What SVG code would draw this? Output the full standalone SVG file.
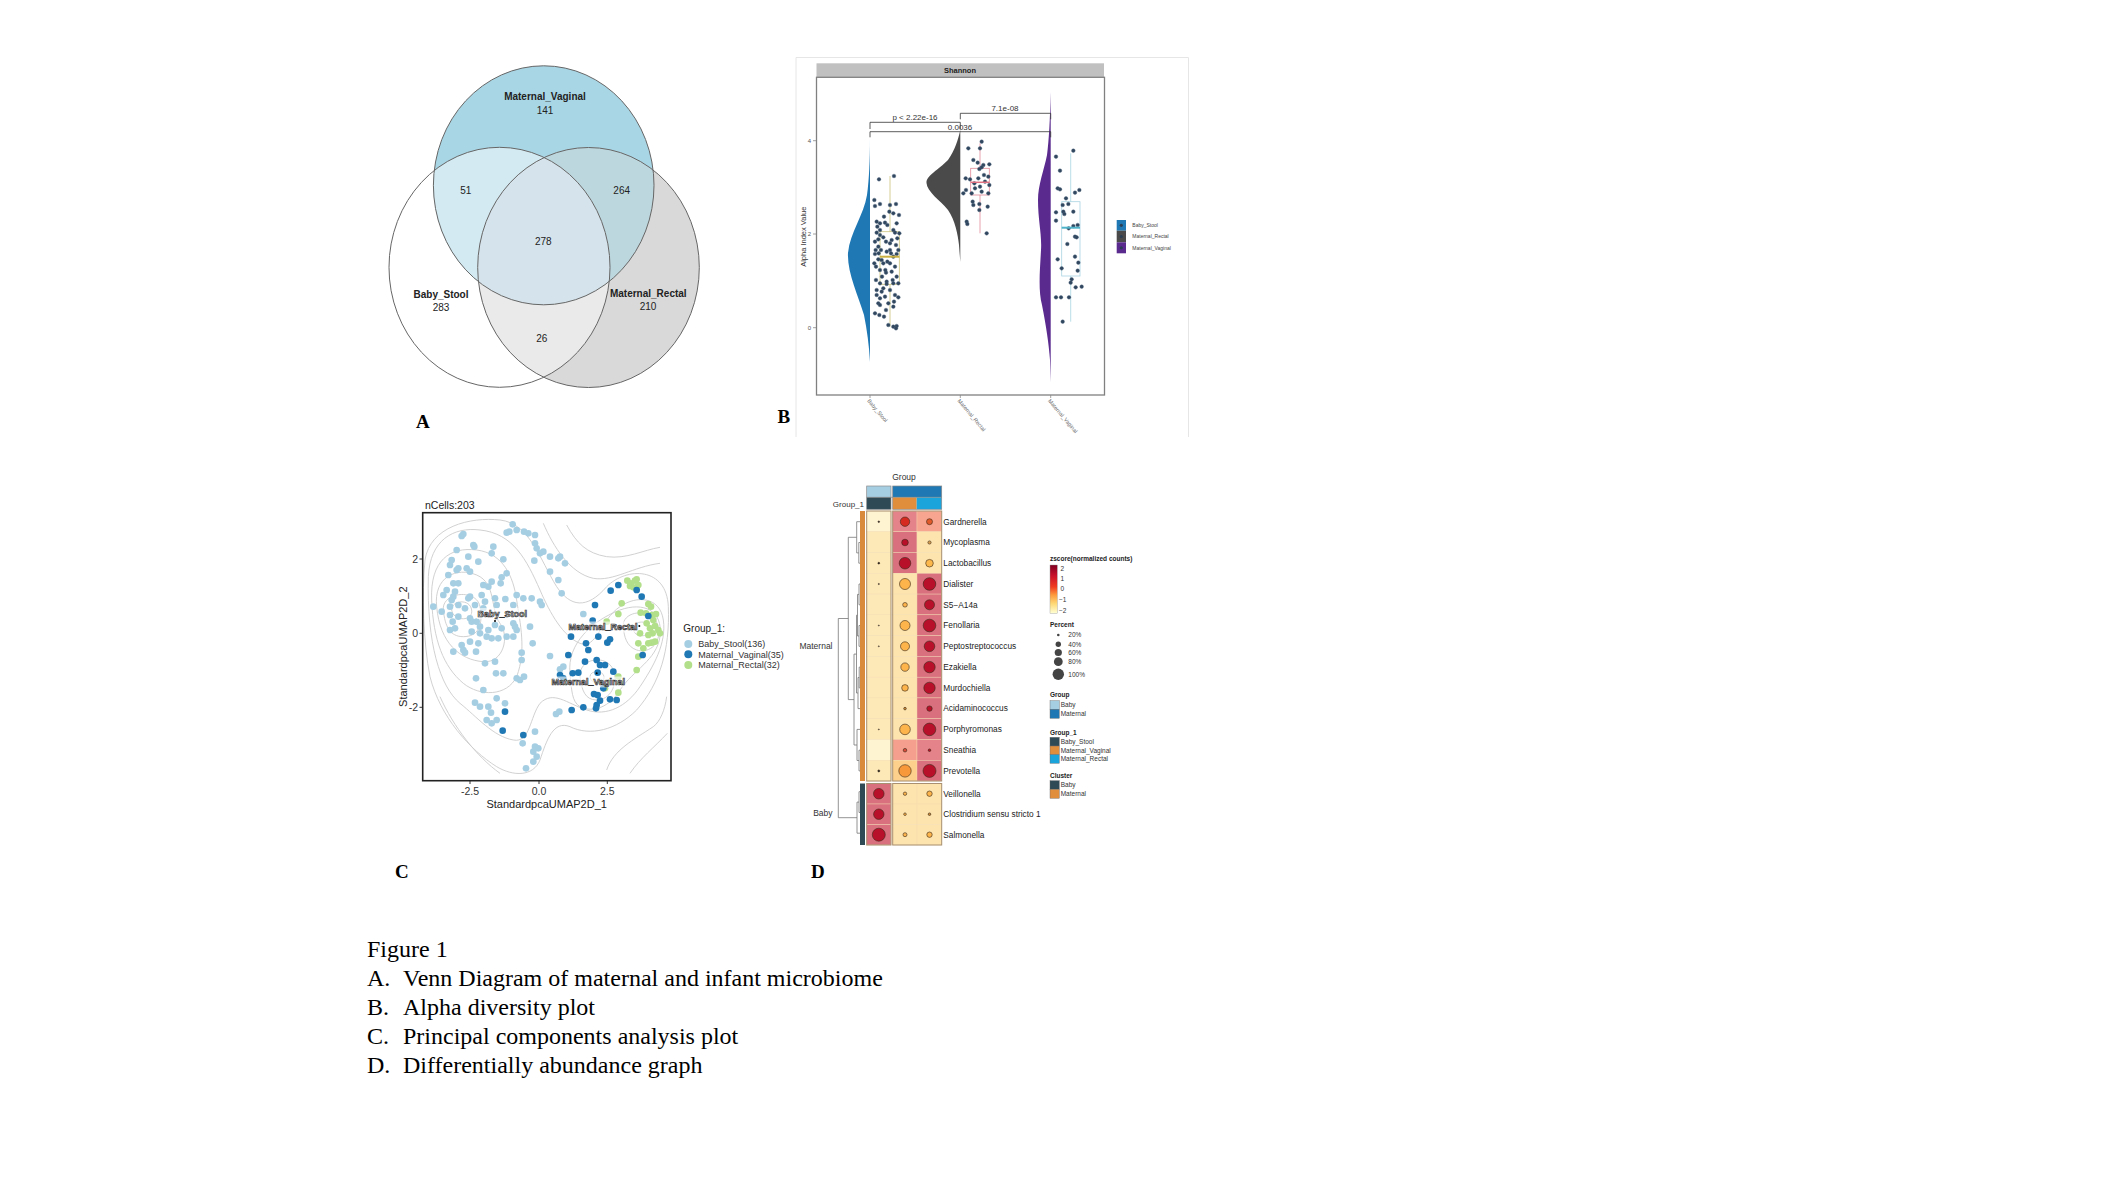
<svg xmlns="http://www.w3.org/2000/svg" width="2111" height="1188" viewBox="0 0 2111 1188">
<style>
.sans{font-family:"Liberation Sans",Arial,sans-serif}
.serif{font-family:"Liberation Serif","Times New Roman",serif}
.vl{font-family:"Liberation Sans",Arial,sans-serif;font-size:10px;fill:#222;text-anchor:middle}
.vb{font-weight:bold}
.pl{font-family:"Liberation Serif","Times New Roman",serif;font-size:19px;font-weight:bold;fill:#000}
.cap{font-family:"Liberation Serif","Times New Roman",serif;font-size:24px;fill:#000}
.bp circle{r:5.5px}
.bp{fill:#30475f;stroke:#4a6078;stroke-width:1.2}
.cb{fill:#a6cee3}.cv{fill:#1f78b4}.cr{fill:#b2df8a}
.ct{fill:none;stroke:#cccccc;stroke-width:2.7}
.dl{font-family:"Liberation Sans",Arial,sans-serif;font-size:8.3px;fill:#222}
.lg{font-family:"Liberation Sans",Arial,sans-serif;font-size:6.5px;fill:#333}
.lgt{font-family:"Liberation Sans",Arial,sans-serif;font-size:6.5px;fill:#222;font-weight:bold}
.dg{fill:none;stroke:#777;stroke-width:0.8}
.dot{stroke:#3a2a1a;stroke-width:0.6}
</style>
<defs>
<clipPath id="cT"><ellipse cx="543.7" cy="185.3" rx="110.3" ry="119.5"/></clipPath>
<clipPath id="cR"><ellipse cx="588.5" cy="267.5" rx="110.8" ry="120"/></clipPath>
<linearGradient id="zg" x1="0" y1="0" x2="0" y2="1">
<stop offset="0" stop-color="#7f0022"/><stop offset="0.22" stop-color="#c8102a"/><stop offset="0.45" stop-color="#f03b20"/><stop offset="0.62" stop-color="#fd9a3c"/><stop offset="0.8" stop-color="#fed976"/><stop offset="1" stop-color="#ffffd4"/>
</linearGradient>
</defs>
<rect width="2111" height="1188" fill="#ffffff"/>

<!-- Panel A: Venn -->
<g id="panelA">
<ellipse cx="543.7" cy="185.3" rx="110.3" ry="119.5" fill="#a9d6e5"/>
<ellipse cx="588.5" cy="267.5" rx="110.8" ry="120" fill="#d9d9d9"/>
<ellipse cx="499.5" cy="267.3" rx="110.5" ry="120" fill="#d3eaf2" clip-path="url(#cT)"/>
<ellipse cx="588.5" cy="267.5" rx="110.8" ry="120" fill="#bdd7df" clip-path="url(#cT)"/>
<ellipse cx="499.5" cy="267.3" rx="110.5" ry="120" fill="#eaeaea" clip-path="url(#cR)"/>
<g clip-path="url(#cT)"><ellipse cx="499.5" cy="267.3" rx="110.5" ry="120" fill="#d5e4ec" clip-path="url(#cR)"/></g>
<g fill="none" stroke="#666" stroke-width="1">
<ellipse cx="543.7" cy="185.3" rx="110.3" ry="119.5"/>
<ellipse cx="499.5" cy="267.3" rx="110.5" ry="120"/>
<ellipse cx="588.5" cy="267.5" rx="110.8" ry="120"/>
</g>
<text class="vl vb" x="545" y="100">Maternal_Vaginal</text>
<text class="vl" x="545" y="114">141</text>
<text class="vl" x="465.7" y="194">51</text>
<text class="vl" x="621.7" y="194">264</text>
<text class="vl" x="543.3" y="244.5">278</text>
<text class="vl vb" x="441" y="297.5">Baby_Stool</text>
<text class="vl" x="441" y="311">283</text>
<text class="vl vb" x="648.3" y="297">Maternal_Rectal</text>
<text class="vl" x="648" y="310">210</text>
<text class="vl" x="541.7" y="341.5">26</text>
<text class="pl" x="416" y="427.5">A</text>
</g>

<!-- Panel B: Alpha diversity -->
<g id="panelB">
<polyline points="796,437 796,57.5 1188.5,57.5 1188.5,437" fill="none" stroke="#e6e6e6" stroke-width="1"/>
<rect x="816.5" y="63.3" width="287.5" height="14" fill="#c0c0c0"/>
<text class="sans" x="960" y="73" font-size="7.5" font-weight="bold" text-anchor="middle" fill="#222">Shannon</text>
<rect x="816.5" y="77.3" width="288" height="317.7" fill="#fff" stroke="#808080" stroke-width="1.3"/>
<g class="sans" font-size="6" fill="#555" text-anchor="end">
<text x="811" y="142.8">4</text><text x="811" y="236.1">2</text><text x="811" y="329.8">0</text>
</g>
<g stroke="#888" stroke-width="0.8"><line x1="813" y1="140.7" x2="816" y2="140.7"/><line x1="813" y1="234" x2="816" y2="234"/><line x1="813" y1="327.7" x2="816" y2="327.7"/>
<line x1="870" y1="395" x2="870" y2="398"/><line x1="960.3" y1="395" x2="960.3" y2="398"/><line x1="1050.7" y1="395" x2="1050.7" y2="398"/></g>
<text class="sans" transform="translate(805.5,236.7) rotate(-90)" font-size="7.5" fill="#333" text-anchor="middle">Alpha Index Value</text>
<!-- violins -->
<path d="M870,138 C870,160 869,180 867,195 C864,215 850,232 848,253 C847,272 858,295 864,315 C867,330 869,345 870,362 Z" fill="#1f78b4"/>
<path d="M960.3,130 C958,140 955,150 948,160 C938,170 926,176 926.5,183 C927,192 940,200 948,210 C955,220 958,235 959,245 L960.3,262 Z" fill="#4a4a4a"/>
<path d="M1050.7,92 C1050,120 1049,140 1047,155 C1044,170 1038,185 1038,200 C1038,220 1042,235 1041,250 C1040,270 1038,290 1042,305 C1046,325 1049,345 1050,360 L1050.7,382 Z" fill="#5b2a8f"/>
<!-- boxplots -->
<g fill="none" stroke-width="0.8">
<g stroke="#c9c27a"><line x1="890" y1="176" x2="890" y2="231.7"/><line x1="890" y1="284.3" x2="890" y2="326.7"/><rect x="880" y="231.7" width="19.3" height="52.6"/></g>
<g stroke="#e08a98"><line x1="980" y1="143.3" x2="980" y2="168.3"/><line x1="980" y1="195" x2="980" y2="233.3"/><rect x="970.7" y="168.3" width="18.6" height="26.7"/></g>
<g stroke="#a8d4e2"><line x1="1070.7" y1="153.3" x2="1070.7" y2="201.7"/><line x1="1070.7" y1="276" x2="1070.7" y2="321.7"/><rect x="1061.7" y="201.7" width="18.3" height="74.3"/></g>
</g>
<!-- points -->
<g transform="translate(780,50) scale(0.333333)">
<g class="bp">
<circle cx="297" cy="388" r="5.5"/><circle cx="342" cy="378" r="5.5"/><circle cx="283" cy="450" r="5.5"/><circle cx="285" cy="468" r="5.5"/><circle cx="300" cy="462" r="5.5"/><circle cx="330" cy="465" r="5.5"/><circle cx="348" cy="462" r="5.5"/><circle cx="328" cy="485" r="5.5"/><circle cx="340" cy="490" r="5.5"/><circle cx="357" cy="495" r="5.5"/><circle cx="290" cy="515" r="5.5"/><circle cx="300" cy="520" r="5.5"/><circle cx="292" cy="530" r="5.5"/><circle cx="315" cy="518" r="5.5"/><circle cx="322" cy="525" r="5.5"/><circle cx="340" cy="540" r="5.5"/><circle cx="345" cy="548" r="5.5"/><circle cx="358" cy="550" r="5.5"/><circle cx="290" cy="548" r="5.5"/><circle cx="300" cy="555" r="5.5"/><circle cx="295" cy="568" r="5.5"/><circle cx="310" cy="562" r="5.5"/><circle cx="318" cy="575" r="5.5"/><circle cx="335" cy="570" r="5.5"/><circle cx="348" cy="585" r="5.5"/><circle cx="295" cy="590" r="5.5"/><circle cx="303" cy="600" r="5.5"/><circle cx="320" cy="605" r="5.5"/><circle cx="285" cy="612" r="5.5"/><circle cx="330" cy="600" r="5.5"/><circle cx="350" cy="612" r="5.5"/><circle cx="340" cy="620" r="5.5"/><circle cx="295" cy="628" r="5.5"/><circle cx="310" cy="640" r="5.5"/><circle cx="322" cy="635" r="5.5"/><circle cx="288" cy="650" r="5.5"/><circle cx="345" cy="650" r="5.5"/><circle cx="300" cy="660" r="5.5"/><circle cx="318" cy="668" r="5.5"/><circle cx="335" cy="665" r="5.5"/><circle cx="350" cy="680" r="5.5"/><circle cx="288" cy="690" r="5.5"/><circle cx="300" cy="700" r="5.5"/><circle cx="320" cy="695" r="5.5"/><circle cx="340" cy="700" r="5.5"/><circle cx="310" cy="715" r="5.5"/><circle cx="330" cy="720" r="5.5"/><circle cx="290" cy="735" r="5.5"/><circle cx="300" cy="745" r="5.5"/><circle cx="315" cy="740" r="5.5"/><circle cx="345" cy="735" r="5.5"/><circle cx="355" cy="742" r="5.5"/><circle cx="295" cy="760" r="5.5"/><circle cx="325" cy="760" r="5.5"/><circle cx="300" cy="765" r="5.5"/><circle cx="340" cy="770" r="5.5"/><circle cx="285" cy="790" r="5.5"/><circle cx="298" cy="795" r="5.5"/><circle cx="312" cy="800" r="5.5"/><circle cx="325" cy="825" r="5.5"/><circle cx="340" cy="830" r="5.5"/><circle cx="350" cy="828" r="5.5"/><circle cx="348" cy="835" r="5.5"/><circle cx="320" cy="702" r="5.5"/><circle cx="306" cy="680" r="5.5"/><circle cx="296" cy="610" r="5.5"/><circle cx="330" cy="580" r="5.5"/><circle cx="305" cy="630" r="5.5"/><circle cx="355" cy="600" r="5.5"/><circle cx="285" cy="575" r="5.5"/><circle cx="350" cy="520" r="5.5"/><circle cx="312" cy="500" r="5.5"/><circle cx="283" cy="640" r="5.5"/><circle cx="330" cy="640" r="5.5"/><circle cx="355" cy="700" r="5.5"/><circle cx="342" cy="755" r="5.5"/><circle cx="290" cy="720" r="5.5"/><circle cx="318" cy="780" r="5.5"/><circle cx="300" cy="540" r="5.5"/><circle cx="333" cy="610" r="5.5"/><circle cx="287" cy="600" r="5.5"/><circle cx="316" cy="660" r="5.5"/><circle cx="305" cy="725" r="5.5"/><circle cx="338" cy="690" r="5.5"/><circle cx="352" cy="565" r="5.5"/>
<circle cx="565" cy="295" r="5.5"/><circle cx="605" cy="275" r="5.5"/><circle cx="600" cy="295" r="5.5"/><circle cx="580" cy="330" r="5.5"/><circle cx="593" cy="338" r="5.5"/><circle cx="610" cy="345" r="5.5"/><circle cx="628" cy="343" r="5.5"/><circle cx="557" cy="385" r="5.5"/><circle cx="570" cy="388" r="5.5"/><circle cx="595" cy="385" r="5.5"/><circle cx="605" cy="352" r="5.5"/><circle cx="598" cy="357" r="5.5"/><circle cx="612" cy="375" r="5.5"/><circle cx="625" cy="380" r="5.5"/><circle cx="583" cy="400" r="5.5"/><circle cx="615" cy="395" r="5.5"/><circle cx="600" cy="410" r="5.5"/><circle cx="558" cy="420" r="5.5"/><circle cx="585" cy="415" r="5.5"/><circle cx="628" cy="405" r="5.5"/><circle cx="550" cy="430" r="5.5"/><circle cx="575" cy="430" r="5.5"/><circle cx="605" cy="425" r="5.5"/><circle cx="625" cy="430" r="5.5"/><circle cx="578" cy="455" r="5.5"/><circle cx="598" cy="462" r="5.5"/><circle cx="580" cy="465" r="5.5"/><circle cx="623" cy="470" r="5.5"/><circle cx="598" cy="480" r="5.5"/><circle cx="560" cy="515" r="5.5"/><circle cx="562" cy="522" r="5.5"/><circle cx="620" cy="550" r="5.5"/>
<circle cx="880" cy="302" r="5.5"/><circle cx="828" cy="320" r="5.5"/><circle cx="840" cy="362" r="5.5"/><circle cx="898" cy="420" r="5.5"/><circle cx="833" cy="415" r="5.5"/><circle cx="840" cy="418" r="5.5"/><circle cx="885" cy="428" r="5.5"/><circle cx="858" cy="445" r="5.5"/><circle cx="848" cy="465" r="5.5"/><circle cx="865" cy="462" r="5.5"/><circle cx="828" cy="487" r="5.5"/><circle cx="850" cy="485" r="5.5"/><circle cx="880" cy="485" r="5.5"/><circle cx="853" cy="492" r="5.5"/><circle cx="828" cy="512" r="5.5"/><circle cx="893" cy="525" r="5.5"/><circle cx="880" cy="528" r="5.5"/><circle cx="866" cy="535" r="5.5"/><circle cx="885" cy="560" r="5.5"/><circle cx="890" cy="562" r="5.5"/><circle cx="862" cy="582" r="5.5"/><circle cx="833" cy="628" r="5.5"/><circle cx="885" cy="620" r="5.5"/><circle cx="895" cy="638" r="5.5"/><circle cx="845" cy="655" r="5.5"/><circle cx="893" cy="662" r="5.5"/><circle cx="875" cy="688" r="5.5"/><circle cx="872" cy="698" r="5.5"/><circle cx="887" cy="712" r="5.5"/><circle cx="905" cy="710" r="5.5"/><circle cx="828" cy="742" r="5.5"/><circle cx="843" cy="742" r="5.5"/><circle cx="867" cy="742" r="5.5"/><circle cx="848" cy="815" r="5.5"/>
</g>
</g>
<!-- medians -->
<line x1="880" y1="256.7" x2="899.3" y2="256.7" stroke="#c9b040" stroke-width="2"/>
<line x1="970.7" y1="182.3" x2="989.3" y2="182.3" stroke="#e07080" stroke-width="1.5"/>
<line x1="1061.7" y1="227.7" x2="1080" y2="227.7" stroke="#4fb3c9" stroke-width="2"/>
<!-- significance brackets -->
<g fill="none" stroke="#333" stroke-width="0.8">
<polyline points="870,129 870,122.3 960.3,122.3 960.3,129"/>
<polyline points="960.3,119.3 960.3,113.3 1050.7,113.3 1050.7,119.3"/>
<polyline points="870,137.3 870,131.7 1050.7,131.7 1050.7,137.3"/>
</g>
<g class="sans" font-size="8" fill="#333" text-anchor="middle">
<text x="915" y="120">p &lt; 2.22e-16</text>
<text x="1005" y="110.7">7.1e-08</text>
<text x="960" y="129.5">0.0036</text>
</g>
<!-- x labels -->
<g class="sans" font-size="5.5" fill="#666">
<text transform="translate(867,401) rotate(50)">Baby_Stool</text>
<text transform="translate(957.3,401) rotate(50)">Maternal_Rectal</text>
<text transform="translate(1047.7,401) rotate(50)">Maternal_Vaginal</text>
</g>
<!-- legend -->
<rect x="1116.7" y="220" width="9.3" height="10.7" fill="#1f78b4"/><circle cx="1121.3" cy="225.3" r="1.6" fill="#2b3f55"/>
<rect x="1116.7" y="230.7" width="9.3" height="11.6" fill="#4a4a4a"/><circle cx="1121.3" cy="236.5" r="1.6" fill="#2b3f55"/>
<rect x="1116.7" y="242.3" width="9.3" height="11" fill="#5b2a8f"/><circle cx="1121.3" cy="247.8" r="1.6" fill="#2b3f55"/>
<g class="sans" font-size="5" fill="#444">
<text x="1132.3" y="227">Baby_Stool</text><text x="1132.3" y="238.3">Maternal_Rectal</text><text x="1132.3" y="249.6">Maternal_Vaginal</text>
</g>
<text class="pl" x="777.5" y="423">B</text>
</g>

<!-- Panel C: UMAP -->
<g id="panelC">
<text class="sans" x="425" y="508.5" font-size="10.5" fill="#222">nCells:203</text>
<rect x="422.7" y="512.7" width="248.3" height="268" fill="#fff"/>
<g transform="translate(420,510) scale(0.333333)">
<path class="ct" d="M95,300 C95,270 150,265 155,300 C160,335 100,335 95,300 Z"/>
<path class="ct" d="M70,300 C65,245 170,235 180,290 C190,345 175,380 130,380 C90,380 75,350 70,300 Z"/>
<path class="ct" d="M50,290 C40,200 110,170 170,195 C230,220 210,300 240,340 C270,380 250,460 190,455 C120,450 60,400 50,290 Z"/>
<path class="ct" d="M35,270 C30,150 90,110 170,120 C250,130 280,200 290,270 C300,340 320,420 290,500 C260,560 180,560 130,520 C70,470 40,390 35,270 Z"/>
<path class="ct" d="M25,200 C30,90 100,50 180,60 C280,70 320,150 360,240 C390,310 430,380 480,400 C530,420 540,330 600,290 C650,255 720,260 730,330 C740,400 700,470 660,530 C620,590 560,620 500,600 C440,580 400,540 360,580 C330,620 330,700 280,690 C220,680 170,620 120,580 C60,530 20,400 25,200 Z"/>
<path class="ct" d="M15,150 C30,50 150,20 240,30 C330,40 360,150 410,230 C450,290 500,300 560,230 C620,170 740,170 745,290 C750,420 720,520 650,600 C590,660 510,680 450,650 C400,630 380,690 360,750 C340,800 280,800 230,770 C150,720 60,620 30,500 C10,400 5,250 15,150 Z"/>
<path class="ct" d="M640,355 C640,330 690,330 690,355 C690,385 640,385 640,355 Z"/>
<path class="ct" d="M610,350 C605,300 700,290 715,350 C725,410 680,430 650,420 C620,410 612,380 610,350 Z"/>
<path class="ct" d="M510,500 C510,480 550,480 552,500 C555,525 512,525 510,500 Z"/>
<path class="ct" d="M480,500 C475,445 560,430 580,480 C595,525 570,570 530,570 C495,570 485,540 480,500 Z"/>
<path class="ct" d="M450,490 C440,400 520,330 600,300 C670,275 730,300 720,380 C710,450 640,480 600,540 C570,590 520,610 480,590 C455,575 455,540 450,490 Z"/>
<path class="ct" d="M370,40 C400,110 450,190 520,205 C580,215 640,170 720,160"/>
<path class="ct" d="M440,45 C470,100 500,130 560,140 C620,148 670,120 720,112"/>
<path class="ct" d="M560,780 C580,720 640,690 700,650 C720,635 735,600 740,560"/>
<path class="ct" d="M630,790 C660,745 705,710 742,670"/>
<path class="ct" d="M60,560 C100,650 170,740 240,790"/>
</g>
<g transform="translate(370,490) scale(0.333333)">
<g class="cb">
<circle cx="428" cy="103" r="10"/><circle cx="418" cy="125" r="10"/><circle cx="440" cy="120" r="10"/><circle cx="462" cy="125" r="10"/><circle cx="475" cy="130" r="10"/><circle cx="410" cy="128" r="10"/><circle cx="495" cy="135" r="10"/><circle cx="280" cy="132" r="10"/><circle cx="275" cy="138" r="10"/><circle cx="310" cy="165" r="10"/><circle cx="313" cy="170" r="10"/><circle cx="370" cy="170" r="10"/><circle cx="260" cy="180" r="10"/><circle cx="495" cy="160" r="10"/><circle cx="500" cy="175" r="10"/><circle cx="520" cy="185" r="10"/><circle cx="510" cy="190" r="10"/><circle cx="540" cy="200" r="10"/><circle cx="565" cy="205" r="10"/><circle cx="570" cy="200" r="10"/><circle cx="585" cy="220" r="10"/><circle cx="295" cy="200" r="10"/><circle cx="325" cy="215" r="10"/><circle cx="365" cy="190" r="10"/><circle cx="400" cy="208" r="10"/><circle cx="493" cy="212" r="10"/><circle cx="245" cy="210" r="10"/><circle cx="240" cy="225" r="10"/><circle cx="265" cy="235" r="10"/><circle cx="290" cy="235" r="10"/><circle cx="300" cy="245" r="10"/><circle cx="260" cy="240" r="10"/><circle cx="235" cy="255" r="10"/><circle cx="540" cy="245" r="10"/><circle cx="565" cy="270" r="10"/><circle cx="250" cy="280" r="10"/><circle cx="265" cy="280" r="10"/><circle cx="365" cy="275" r="10"/><circle cx="392" cy="280" r="10"/><circle cx="340" cy="285" r="10"/><circle cx="355" cy="290" r="10"/><circle cx="410" cy="250" r="10"/><circle cx="395" cy="262" r="10"/><circle cx="220" cy="315" r="10"/><circle cx="230" cy="300" r="10"/><circle cx="250" cy="320" r="10"/><circle cx="255" cy="305" r="10"/><circle cx="245" cy="330" r="10"/><circle cx="300" cy="320" r="10"/><circle cx="295" cy="325" r="10"/><circle cx="335" cy="315" r="10"/><circle cx="345" cy="335" r="10"/><circle cx="375" cy="325" r="10"/><circle cx="406" cy="327" r="10"/><circle cx="440" cy="315" r="10"/><circle cx="460" cy="325" r="10"/><circle cx="485" cy="325" r="10"/><circle cx="510" cy="335" r="10"/><circle cx="515" cy="345" r="10"/><circle cx="575" cy="310" r="10"/><circle cx="240" cy="350" r="10"/><circle cx="265" cy="345" r="10"/><circle cx="285" cy="355" r="10"/><circle cx="315" cy="345" r="10"/><circle cx="340" cy="355" r="10"/><circle cx="380" cy="345" r="10"/><circle cx="430" cy="345" r="10"/><circle cx="190" cy="350" r="10"/><circle cx="215" cy="365" r="10"/><circle cx="240" cy="375" r="10"/><circle cx="265" cy="380" r="10"/><circle cx="300" cy="385" r="10"/><circle cx="305" cy="395" r="10"/><circle cx="320" cy="395" r="10"/><circle cx="330" cy="410" r="10"/><circle cx="355" cy="420" r="10"/><circle cx="375" cy="405" r="10"/><circle cx="395" cy="415" r="10"/><circle cx="430" cy="400" r="10"/><circle cx="435" cy="410" r="10"/><circle cx="440" cy="420" r="10"/><circle cx="480" cy="410" r="10"/><circle cx="248" cy="395" r="10"/><circle cx="255" cy="415" r="10"/><circle cx="240" cy="420" r="10"/><circle cx="305" cy="425" r="10"/><circle cx="330" cy="430" r="10"/><circle cx="350" cy="440" r="10"/><circle cx="385" cy="445" r="10"/><circle cx="410" cy="440" r="10"/><circle cx="430" cy="440" r="10"/><circle cx="275" cy="465" r="10"/><circle cx="300" cy="455" r="10"/><circle cx="325" cy="460" r="10"/><circle cx="365" cy="445" r="10"/><circle cx="488" cy="460" r="10"/><circle cx="250" cy="485" r="10"/><circle cx="280" cy="480" r="10"/><circle cx="285" cy="488" r="10"/><circle cx="318" cy="485" r="10"/><circle cx="455" cy="488" r="10"/><circle cx="540" cy="498" r="10"/><circle cx="455" cy="510" r="10"/><circle cx="345" cy="520" r="10"/><circle cx="375" cy="515" r="10"/><circle cx="400" cy="550" r="10"/><circle cx="378" cy="550" r="10"/><circle cx="318" cy="565" r="10"/><circle cx="440" cy="565" r="10"/><circle cx="450" cy="570" r="10"/><circle cx="462" cy="560" r="10"/><circle cx="340" cy="600" r="10"/><circle cx="380" cy="625" r="10"/><circle cx="405" cy="640" r="10"/><circle cx="315" cy="638" r="10"/><circle cx="330" cy="650" r="10"/><circle cx="355" cy="650" r="10"/><circle cx="363" cy="668" r="10"/><circle cx="380" cy="690" r="10"/><circle cx="365" cy="700" r="10"/><circle cx="350" cy="690" r="10"/><circle cx="568" cy="665" r="10"/><circle cx="558" cy="672" r="10"/><circle cx="495" cy="725" r="10"/><circle cx="458" cy="760" r="10"/><circle cx="495" cy="770" r="10"/><circle cx="490" cy="785" r="10"/><circle cx="505" cy="775" r="10"/><circle cx="500" cy="800" r="10"/><circle cx="490" cy="815" r="10"/><circle cx="468" cy="835" r="10"/><circle cx="640" cy="372" r="10"/><circle cx="570" cy="538" r="10"/><circle cx="580" cy="530" r="10"/>
</g>
<g class="cr">
<circle cx="772" cy="272" r="10"/><circle cx="782" cy="280" r="10"/><circle cx="795" cy="272" r="10"/><circle cx="800" cy="268" r="10"/><circle cx="805" cy="285" r="10"/><circle cx="780" cy="288" r="10"/><circle cx="790" cy="292" r="10"/><circle cx="755" cy="340" r="10"/><circle cx="745" cy="372" r="10"/><circle cx="835" cy="342" r="10"/><circle cx="843" cy="350" r="10"/><circle cx="812" cy="368" r="10"/><circle cx="828" cy="370" r="10"/><circle cx="845" cy="375" r="10"/><circle cx="858" cy="372" r="10"/><circle cx="850" cy="390" r="10"/><circle cx="830" cy="400" r="10"/><circle cx="840" cy="415" r="10"/><circle cx="855" cy="408" r="10"/><circle cx="865" cy="420" r="10"/><circle cx="848" cy="430" r="10"/><circle cx="870" cy="430" r="10"/><circle cx="835" cy="435" r="10"/><circle cx="810" cy="430" r="10"/><circle cx="805" cy="460" r="10"/><circle cx="835" cy="460" r="10"/><circle cx="845" cy="458" r="10"/><circle cx="855" cy="455" r="10"/><circle cx="820" cy="475" r="10"/><circle cx="805" cy="500" r="10"/><circle cx="800" cy="540" r="10"/><circle cx="745" cy="560" r="10"/><circle cx="745" cy="608" r="10"/><circle cx="710" cy="395" r="10"/><circle cx="705" cy="595" r="10"/>
</g>
<g class="cv">
<circle cx="745" cy="285" r="10"/><circle cx="722" cy="302" r="10"/><circle cx="800" cy="300" r="10"/><circle cx="815" cy="320" r="10"/><circle cx="675" cy="345" r="10"/><circle cx="668" cy="392" r="10"/><circle cx="835" cy="378" r="10"/><circle cx="603" cy="440" r="10"/><circle cx="648" cy="460" r="10"/><circle cx="655" cy="480" r="10"/><circle cx="685" cy="440" r="10"/><circle cx="720" cy="448" r="10"/><circle cx="712" cy="458" r="10"/><circle cx="595" cy="495" r="10"/><circle cx="645" cy="515" r="10"/><circle cx="680" cy="510" r="10"/><circle cx="690" cy="525" r="10"/><circle cx="705" cy="525" r="10"/><circle cx="730" cy="545" r="10"/><circle cx="608" cy="550" r="10"/><circle cx="625" cy="548" r="10"/><circle cx="570" cy="555" r="10"/><circle cx="580" cy="565" r="10"/><circle cx="683" cy="548" r="10"/><circle cx="700" cy="595" r="10"/><circle cx="818" cy="495" r="10"/><circle cx="672" cy="612" r="10"/><circle cx="683" cy="615" r="10"/><circle cx="690" cy="632" r="10"/><circle cx="680" cy="645" r="10"/><circle cx="720" cy="628" r="10"/><circle cx="740" cy="630" r="10"/><circle cx="605" cy="660" r="10"/><circle cx="640" cy="652" r="10"/><circle cx="678" cy="655" r="10"/><circle cx="405" cy="665" r="10"/><circle cx="398" cy="722" r="10"/><circle cx="460" cy="735" r="10"/>
</g>
</g>
<g fill="#000"><circle cx="495" cy="621" r="1"/><circle cx="639.3" cy="626" r="1"/><circle cx="596.7" cy="673.3" r="1"/></g>
<g class="sans" font-size="9" font-weight="bold" fill="#f2f2f2" stroke="#333" stroke-width="0.7" text-anchor="middle">
<rect x="477" y="608" width="50" height="11" fill="#ffffff" fill-opacity="0.6" stroke="none"/>
<rect x="568.5" y="621.5" width="69" height="11" fill="#ffffff" fill-opacity="0.6" stroke="none"/>
<rect x="552" y="676.5" width="73" height="11" fill="#ffffff" fill-opacity="0.6" stroke="none"/>
<text x="502.3" y="616.7">Baby_Stool</text>
<text x="603" y="630">Maternal_Rectal</text>
<text x="588.3" y="685">Maternal_Vaginal</text>
</g>
<rect x="422.7" y="512.7" width="248.3" height="268" fill="none" stroke="#222" stroke-width="1.6"/>
<g stroke="#222" stroke-width="0.9">
<line x1="419.5" y1="559" x2="422.7" y2="559"/><line x1="419.5" y1="633.3" x2="422.7" y2="633.3"/><line x1="419.5" y1="707.3" x2="422.7" y2="707.3"/>
<line x1="470" y1="780.7" x2="470" y2="784"/><line x1="539" y1="780.7" x2="539" y2="784"/><line x1="607.3" y1="780.7" x2="607.3" y2="784"/>
</g>
<g class="sans" font-size="10.5" fill="#333">
<text x="418" y="562.5" text-anchor="end">2</text>
<text x="418" y="637" text-anchor="end">0</text>
<text x="418" y="711" text-anchor="end">-2</text>
<text x="470" y="795" text-anchor="middle">-2.5</text>
<text x="539" y="795" text-anchor="middle">0.0</text>
<text x="607.3" y="795" text-anchor="middle">2.5</text>
</g>
<text class="sans" x="546.7" y="808" font-size="11" fill="#222" text-anchor="middle">StandardpcaUMAP2D_1</text>
<text class="sans" transform="translate(407,646.7) rotate(-90)" font-size="11" fill="#222" text-anchor="middle">StandardpcaUMAP2D_2</text>
<text class="sans" x="683.3" y="631.5" font-size="10" fill="#222">Group_1:</text>
<circle cx="688.3" cy="644" r="4" fill="#a6cee3"/>
<circle cx="688.3" cy="654.3" r="4" fill="#1f78b4"/>
<circle cx="688.3" cy="665" r="4" fill="#b2df8a"/>
<g class="sans" font-size="9" fill="#333">
<text x="698.3" y="647.2">Baby_Stool(136)</text>
<text x="698.3" y="657.5">Maternal_Vaginal(35)</text>
<text x="698.3" y="668.2">Maternal_Rectal(32)</text>
</g>
<text class="pl" x="395" y="877.5">C</text>
</g>

<!-- Panel D: heatmap -->
<g id="panelD">
<text class="sans" x="904" y="479.5" font-size="8.5" fill="#333" text-anchor="middle">Group</text>
<text class="sans" x="864" y="506.5" font-size="8" fill="#333" text-anchor="end">Group_1</text>
<rect x="866.7" y="486" width="24.3" height="11.3" fill="#a6cee3"/>
<rect x="892.7" y="486" width="49" height="11.3" fill="#1f78b4"/>
<rect x="866.7" y="497.3" width="24.3" height="12" fill="#2f4a55"/>
<rect x="892.7" y="497.3" width="24" height="12" fill="#e08d3c"/>
<rect x="916.7" y="497.3" width="25" height="12" fill="#1ba3dc"/>
<g fill="none" stroke="#8a8a8a" stroke-width="0.7"><rect x="866.7" y="486" width="24.3" height="23.3"/><rect x="892.7" y="486" width="49" height="23.3"/><line x1="866.7" y1="497.3" x2="941.7" y2="497.3"/></g>
<!-- cluster bar -->
<rect x="860" y="511" width="5" height="270" fill="#d98a3a"/>
<rect x="860" y="783.5" width="5" height="61.5" fill="#2f4a55"/>
<!-- dendrogram -->
<path class="dg" d="M838.3,618.5 V817.7 M838.3,618.5 H848.3 M838.3,817.7 H857
M848.3,537.3 V699.6 M848.3,537.3 H856.7 M848.3,699.6 H854
M856.7,521.7 V552.9 M856.7,521.7 H860 M856.7,552.9 H858.8 M858.8,542.5 V563.2 M858.8,542.5 H860 M858.8,563.2 H860
M854,654.1 V745 M854,654.1 H856.5 M854,745 H857
M856.5,615.2 V693 M856.5,615.2 H857.5 M856.5,693 H858
M857.5,594.4 V636 M857.5,594.4 H859 M857.5,636 H859
M859,584 V604.8 M859,584 H860 M859,604.8 H860 M859,625.5 V646.3 M859,625.5 H860 M859,646.3 H860
M858,677.5 V708.6 M858,677.5 H859.2 M858,708.6 H860 M859.2,667.1 V687.9 M859.2,667.1 H860 M859.2,687.9 H860
M857,729.4 V760.5 M857,729.4 H860 M857,760.5 H859 M859,750.2 V770.9 M859,750.2 H860 M859,770.9 H860
M857,802.1 V833.2 M857,802.1 H859 M857,833.2 H860 M859,791.7 V812.5 M859,791.7 H860 M859,812.5 H860"/>
<text class="sans" x="832.5" y="648.5" font-size="8.5" fill="#333" text-anchor="end">Maternal</text>
<text class="sans" x="832.5" y="816" font-size="8.5" fill="#333" text-anchor="end">Baby</text>
<!-- cells -->
<g stroke="#f3dcb0" stroke-width="0.4">
<rect x="866.7" y="511" width="24.3" height="20.77" fill="#fff4d2"/>
<rect x="892.7" y="511" width="24.3" height="20.77" fill="#e5838a"/>
<rect x="917" y="511" width="24.7" height="20.77" fill="#f7a490"/>
<rect x="866.7" y="531.77" width="24.3" height="20.77" fill="#fde8b8"/>
<rect x="892.7" y="531.77" width="24.3" height="20.77" fill="#d9707e"/>
<rect x="917" y="531.77" width="24.7" height="20.77" fill="#fde3ad"/>
<rect x="866.7" y="552.54" width="24.3" height="20.77" fill="#fde8b8"/>
<rect x="892.7" y="552.54" width="24.3" height="20.77" fill="#d9707e"/>
<rect x="917" y="552.54" width="24.7" height="20.77" fill="#fde3ad"/>
<rect x="866.7" y="573.31" width="24.3" height="20.77" fill="#fde8b8"/>
<rect x="892.7" y="573.31" width="24.3" height="20.77" fill="#fde3ad"/>
<rect x="917" y="573.31" width="24.7" height="20.77" fill="#d9707e"/>
<rect x="866.7" y="594.08" width="24.3" height="20.77" fill="#fde8b8"/>
<rect x="892.7" y="594.08" width="24.3" height="20.77" fill="#fde3ad"/>
<rect x="917" y="594.08" width="24.7" height="20.77" fill="#d9707e"/>
<rect x="866.7" y="614.85" width="24.3" height="20.77" fill="#fde8b8"/>
<rect x="892.7" y="614.85" width="24.3" height="20.77" fill="#fde3ad"/>
<rect x="917" y="614.85" width="24.7" height="20.77" fill="#d9707e"/>
<rect x="866.7" y="635.62" width="24.3" height="20.77" fill="#fde8b8"/>
<rect x="892.7" y="635.62" width="24.3" height="20.77" fill="#fde3ad"/>
<rect x="917" y="635.62" width="24.7" height="20.77" fill="#d9707e"/>
<rect x="866.7" y="656.39" width="24.3" height="20.77" fill="#fde8b8"/>
<rect x="892.7" y="656.39" width="24.3" height="20.77" fill="#fde3ad"/>
<rect x="917" y="656.39" width="24.7" height="20.77" fill="#d9707e"/>
<rect x="866.7" y="677.16" width="24.3" height="20.77" fill="#fde8b8"/>
<rect x="892.7" y="677.16" width="24.3" height="20.77" fill="#fde3ad"/>
<rect x="917" y="677.16" width="24.7" height="20.77" fill="#d9707e"/>
<rect x="866.7" y="697.93" width="24.3" height="20.77" fill="#fde8b8"/>
<rect x="892.7" y="697.93" width="24.3" height="20.77" fill="#fde3ad"/>
<rect x="917" y="697.93" width="24.7" height="20.77" fill="#d9707e"/>
<rect x="866.7" y="718.7" width="24.3" height="20.77" fill="#fde8b8"/>
<rect x="892.7" y="718.7" width="24.3" height="20.77" fill="#fde3ad"/>
<rect x="917" y="718.7" width="24.7" height="20.77" fill="#d9707e"/>
<rect x="866.7" y="739.47" width="24.3" height="20.77" fill="#fff4d2"/>
<rect x="892.7" y="739.47" width="24.3" height="20.77" fill="#f5a08f"/>
<rect x="917" y="739.47" width="24.7" height="20.77" fill="#e5838a"/>
<rect x="866.7" y="760.24" width="24.3" height="20.77" fill="#fde8b8"/>
<rect x="892.7" y="760.24" width="24.3" height="20.77" fill="#fdd08c"/>
<rect x="917" y="760.24" width="24.7" height="20.77" fill="#d9707e"/>
<rect x="866.7" y="783.5" width="24.3" height="20.5" fill="#d9707e"/>
<rect x="892.7" y="783.5" width="24.3" height="20.5" fill="#fde3ad"/>
<rect x="917" y="783.5" width="24.7" height="20.5" fill="#fde3ad"/>
<rect x="866.7" y="804" width="24.3" height="20.5" fill="#d9707e"/>
<rect x="892.7" y="804" width="24.3" height="20.5" fill="#fde3ad"/>
<rect x="917" y="804" width="24.7" height="20.5" fill="#fde3ad"/>
<rect x="866.7" y="824.5" width="24.3" height="20.5" fill="#d9707e"/>
<rect x="892.7" y="824.5" width="24.3" height="20.5" fill="#fde3ad"/>
<rect x="917" y="824.5" width="24.7" height="20.5" fill="#fde3ad"/>
</g>
<g fill="none" stroke="#a89070" stroke-width="1">
<rect x="866.7" y="511" width="24.3" height="270"/>
<rect x="892.7" y="511" width="49" height="270"/>
<rect x="866.7" y="783.5" width="24.3" height="61.5"/>
<rect x="892.7" y="783.5" width="49" height="61.5"/>
</g>
<g class="dot">
<circle cx="878.8" cy="521.7" r="0.8" fill="#222"/><circle cx="905" cy="521.7" r="4.7" fill="#d42a20"/><circle cx="929.5" cy="521.7" r="3" fill="#e05a2a"/>
<circle cx="905" cy="542.5" r="3.3" fill="#b8102a"/><circle cx="929.5" cy="542.5" r="1.6" fill="#d9a050"/>
<circle cx="878.8" cy="563.2" r="0.9" fill="#222"/><circle cx="905" cy="563.2" r="5.8" fill="#b8102a"/><circle cx="929.5" cy="563.2" r="3.8" fill="#fdb84b"/>
<circle cx="878.8" cy="584" r="0.6" fill="#555"/><circle cx="905" cy="584" r="5.5" fill="#fdb44b"/><circle cx="929.5" cy="584" r="6.3" fill="#b8102a"/>
<circle cx="905" cy="604.8" r="2.3" fill="#fdb44b"/><circle cx="929.5" cy="604.8" r="5" fill="#b8102a"/>
<circle cx="878.8" cy="625.5" r="0.5" fill="#777"/><circle cx="905" cy="625.5" r="5" fill="#fdb44b"/><circle cx="929.5" cy="625.5" r="6.3" fill="#b8102a"/>
<circle cx="878.8" cy="646.3" r="0.5" fill="#777"/><circle cx="905" cy="646.3" r="4.5" fill="#fdb44b"/><circle cx="929.5" cy="646.3" r="5.3" fill="#b8102a"/>
<circle cx="905" cy="667.1" r="4.2" fill="#fdb44b"/><circle cx="929.5" cy="667.1" r="5.7" fill="#b8102a"/>
<circle cx="905" cy="687.9" r="3.3" fill="#fdb44b"/><circle cx="929.5" cy="687.9" r="5.7" fill="#b8102a"/>
<circle cx="905" cy="708.6" r="1.3" fill="#c98a3a"/><circle cx="929.5" cy="708.6" r="2.7" fill="#b8102a"/>
<circle cx="878.8" cy="729.4" r="0.5" fill="#777"/><circle cx="905" cy="729.4" r="5.3" fill="#fdb44b"/><circle cx="929.5" cy="729.4" r="6.3" fill="#b8102a"/>
<circle cx="905" cy="750.2" r="1.8" fill="#d84a3a"/><circle cx="929.5" cy="750.2" r="1.3" fill="#b8102a"/>
<circle cx="878.8" cy="770.9" r="1" fill="#222"/><circle cx="905" cy="770.9" r="6.2" fill="#f7983a"/><circle cx="929.5" cy="770.9" r="6.5" fill="#b8102a"/>
<circle cx="878.8" cy="793.7" r="5.3" fill="#b8102a"/><circle cx="905" cy="793.7" r="1.7" fill="#fdb44b"/><circle cx="929.5" cy="793.7" r="2.7" fill="#fdb44b"/>
<circle cx="878.8" cy="814.2" r="5.2" fill="#b8102a"/><circle cx="905" cy="814.2" r="1.3" fill="#fdb44b"/><circle cx="929.5" cy="814.2" r="1.3" fill="#c98a3a"/>
<circle cx="878.8" cy="834.7" r="6.5" fill="#b8102a"/><circle cx="905" cy="834.7" r="2" fill="#fdb44b"/><circle cx="929.5" cy="834.7" r="2.7" fill="#fdb44b"/>
</g>
<g class="dl">
<text x="943.3" y="524.5">Gardnerella</text>
<text x="943.3" y="545.3">Mycoplasma</text>
<text x="943.3" y="566">Lactobacillus</text>
<text x="943.3" y="586.8">Dialister</text>
<text x="943.3" y="607.6">S5−A14a</text>
<text x="943.3" y="628.3">Fenollaria</text>
<text x="943.3" y="649.1">Peptostreptococcus</text>
<text x="943.3" y="669.9">Ezakiella</text>
<text x="943.3" y="690.7">Murdochiella</text>
<text x="943.3" y="711.4">Acidaminococcus</text>
<text x="943.3" y="732.2">Porphyromonas</text>
<text x="943.3" y="753">Sneathia</text>
<text x="943.3" y="773.7">Prevotella</text>
<text x="943.3" y="796.5">Veillonella</text>
<text x="943.3" y="817">Clostridium sensu stricto 1</text>
<text x="943.3" y="837.5">Salmonella</text>
</g>
<text class="lgt" x="1050" y="561">zscore(normalized counts)</text>
<rect x="1050" y="565" width="7.3" height="48.3" fill="url(#zg)" stroke="#999" stroke-width="0.4"/>
<g class="lg">
<text x="1060.5" y="570.5">2</text><text x="1060.5" y="580.5">1</text><text x="1060.5" y="590.5">0</text><text x="1059" y="602">−1</text><text x="1059" y="613">−2</text>
</g>
<text class="lgt" x="1050" y="627">Percent</text>
<g fill="#444"><circle cx="1058.3" cy="635" r="1.3"/><circle cx="1058.3" cy="644.3" r="2.7"/><circle cx="1058.3" cy="652.5" r="3.6"/><circle cx="1058.3" cy="661.7" r="4.4"/><circle cx="1058.3" cy="674.3" r="5.7"/></g>
<g class="lg">
<text x="1068.3" y="637.3">20%</text><text x="1068.3" y="646.6">40%</text><text x="1068.3" y="654.8">60%</text><text x="1068.3" y="664">80%</text><text x="1068.3" y="676.6">100%</text>
</g>
<text class="lgt" x="1050" y="697">Group</text>
<g stroke="#666" stroke-width="0.4">
<rect x="1050" y="700.7" width="9.3" height="8.6" fill="#a6cee3"/><rect x="1050" y="709.3" width="9.3" height="9" fill="#1f78b4"/>
<rect x="1050" y="737.3" width="9.3" height="8.7" fill="#2f4a55"/><rect x="1050" y="746" width="9.3" height="8.7" fill="#e08d3c"/><rect x="1050" y="754.7" width="9.3" height="8.6" fill="#1ba3dc"/>
<rect x="1050" y="780.7" width="9.3" height="8.6" fill="#2f4a55"/><rect x="1050" y="789.3" width="9.3" height="9" fill="#e08d3c"/>
</g>
<g class="lg">
<text x="1060.7" y="707.3">Baby</text><text x="1060.7" y="716">Maternal</text>
<text x="1060.7" y="743.8">Baby_Stool</text><text x="1060.7" y="752.5">Maternal_Vaginal</text><text x="1060.7" y="761.2">Maternal_Rectal</text>
<text x="1060.7" y="787.2">Baby</text><text x="1060.7" y="796">Maternal</text>
</g>
<text class="lgt" x="1050" y="734.5">Group_1</text>
<text class="lgt" x="1050" y="777.5">Cluster</text>
<text class="pl" x="811" y="878">D</text>
</g>

<!-- Caption -->
<g id="caption">
<text class="cap" x="367" y="957">Figure 1</text>
<text class="cap" x="367" y="986">A.</text><text class="cap" x="403" y="986">Venn Diagram of maternal and infant microbiome</text>
<text class="cap" x="367" y="1015">B.</text><text class="cap" x="403" y="1015">Alpha diversity plot</text>
<text class="cap" x="367" y="1044">C.</text><text class="cap" x="403" y="1044">Principal components analysis plot</text>
<text class="cap" x="367" y="1073">D.</text><text class="cap" x="403" y="1073">Differentially abundance graph</text>
</g>
</svg>
